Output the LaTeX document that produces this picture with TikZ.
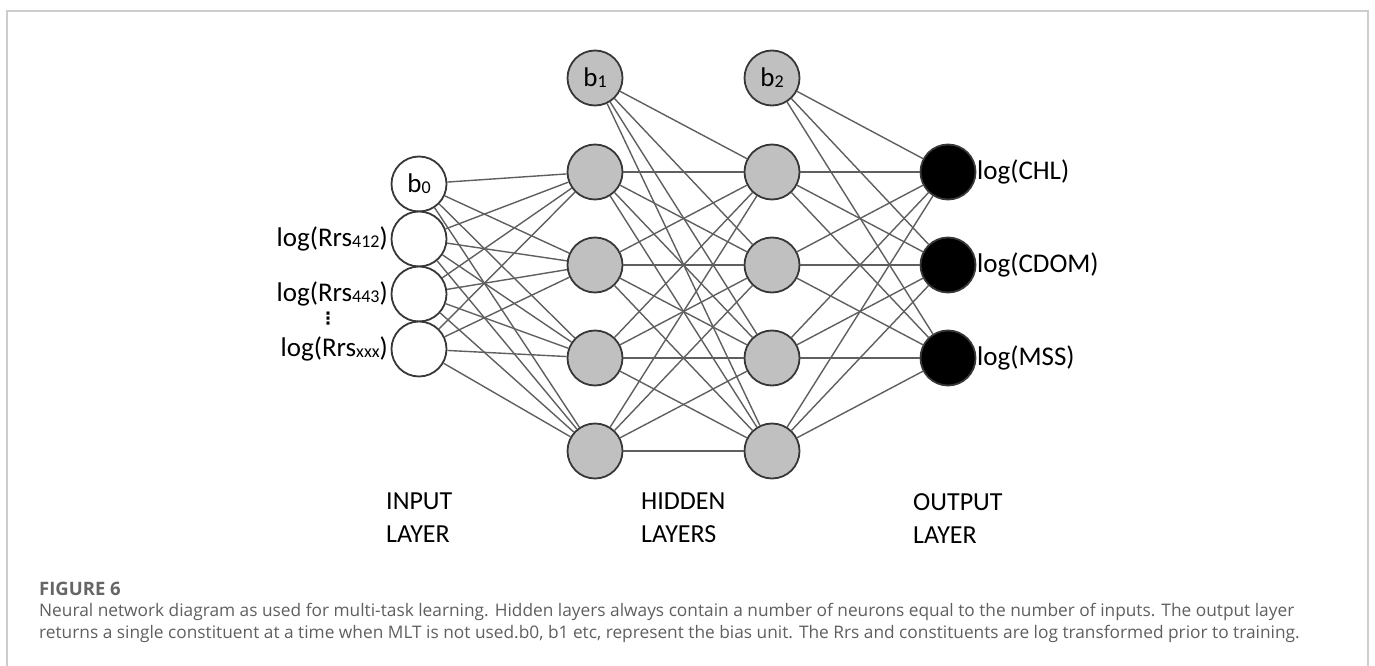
\documentclass[tikz,border=0pt]{standalone}
\usepackage{fontspec}
\setmainfont{Carlito}
\newfontfamily\capfont{Open Sans}
\newfontfamily\dotfont{DejaVu Sans}
\definecolor{nodegray}{RGB}{192,192,192}
\definecolor{edgegray}{RGB}{95,95,95}
\definecolor{rimgray}{RGB}{55,55,55}
\definecolor{framegray}{RGB}{205,205,205}
\definecolor{capgray}{RGB}{95,95,95}
\newcommand{\lsub}[1]{\raisebox{-1pt}{\fontsize{18}{18}\selectfont #1}}
\tikzset{
	neuron/.style={circle, draw=rimgray, line width=1.8pt, minimum size=55pt, inner sep=0pt, font=\fontsize{27}{27}\selectfont},
	inneuron/.style={neuron, fill=white},
	hidneuron/.style={neuron, fill=nodegray},
	outneuron/.style={neuron, fill=black},
	link/.style={draw=edgegray, line width=1.4pt},
	lbl/.style={inner sep=0pt, font=\fontsize{27}{27}\selectfont},
	layerlbl/.style={inner sep=0pt, align=left, anchor=north west, font=\fontsize{26}{33}\selectfont},
	captxt/.style={inner sep=0pt, anchor=base west, text=capgray, font=\capfont\fontsize{17.3}{17.3}\selectfont}
}

\begin{document}
\begin{tikzpicture}[x=1pt, y=-1pt]
		%%%%% START %%%%%
		\useasboundingbox (0, 0) rectangle (1375, 666);
		\draw[framegray, line width=1.5pt] (7, 666) -- (7, 11) -- (1368, 11) -- (1368, 666);
		
		% input layer
		\node[inneuron] (b0) at (419, 184) {b\lsub{0}};
		\node[inneuron] (i1) at (419, 239) {};
		\node[inneuron] (i2) at (419, 294) {};
		\node[inneuron] (i3) at (419, 349) {};
		\node[lbl, anchor=east] (i1lbl) at (388, 239) {log(Rrs\lsub{412})};
		\node[lbl, anchor=east] (i2lbl) at (388, 294) {log(Rrs\lsub{443})};
		\node[lbl, anchor=east] (i3lbl) at (388, 349) {log(Rrs\lsub{xxx})};
		\node[inner sep=0pt, font=\dotfont\bfseries\fontsize{17}{17}\selectfont] (idots) at (328, 319) {⋮};
		
		% hidden layers
		\node[hidneuron] (b1) at (595, 78) {b\lsub{1}};
		\node[hidneuron] (b2) at (772, 78) {b\lsub{2}};
		\foreach \n/\y in {1/172, 2/265, 3/358, 4/451} {
			\node[hidneuron] (ha\n) at (595, \y) {};
			\node[hidneuron] (hb\n) at (772, \y) {};
		}
		
		% output layer
		\node[outneuron] (o1) at (948, 172) {};
		\node[outneuron] (o2) at (948, 265) {};
		\node[outneuron] (o3) at (948, 358) {};
		\node[lbl, anchor=west] (o1lbl) at (977, 172) {log(CHL)};
		\node[lbl, anchor=west] (o2lbl) at (977, 265) {log(CDOM)};
		\node[lbl, anchor=west] (o3lbl) at (977, 358) {log(MSS)};
		
		% connections
		\foreach \a in {b0, i1, i2, i3}
			\foreach \b in {ha1, ha2, ha3, ha4}
				\draw[link] (\a) -- (\b);
		\foreach \a in {b1, ha1, ha2, ha3, ha4}
			\foreach \b in {hb1, hb2, hb3, hb4}
				\draw[link] (\a) -- (\b);
		\foreach \a in {b2, hb1, hb2, hb3, hb4}
			\foreach \b in {o1, o2, o3}
				\draw[link] (\a) -- (\b);
		
		% layer names
		\node[layerlbl] (inlbl) at (386, 493) {INPUT\\LAYER};
		\node[layerlbl] (hidlbl) at (641, 493) {HIDDEN\\LAYERS};
		\node[layerlbl] (outlbl) at (913, 493) {OUTPUT\\LAYER};
		
		% caption
		\node[captxt, font=\capfont\bfseries\fontsize{18.5}{18.5}\selectfont, text={rgb,255:red,102;green,102;blue,102}] (fig) at (39, 595) {FIGURE 6};
		\node[captxt] (cap1) at (39, 616) {Neural network diagram as used for multi-task learning. Hidden layers always contain a number of neurons equal to the number of inputs. The output layer};
		\node[captxt] (cap2) at (39, 638) {returns a single constituent at a time when MLT is not used.b0, b1 etc, represent the bias unit. The Rrs and constituents are log transformed prior to training.};
		%%%%% END %%%%%
\end{tikzpicture}
\end{document}
